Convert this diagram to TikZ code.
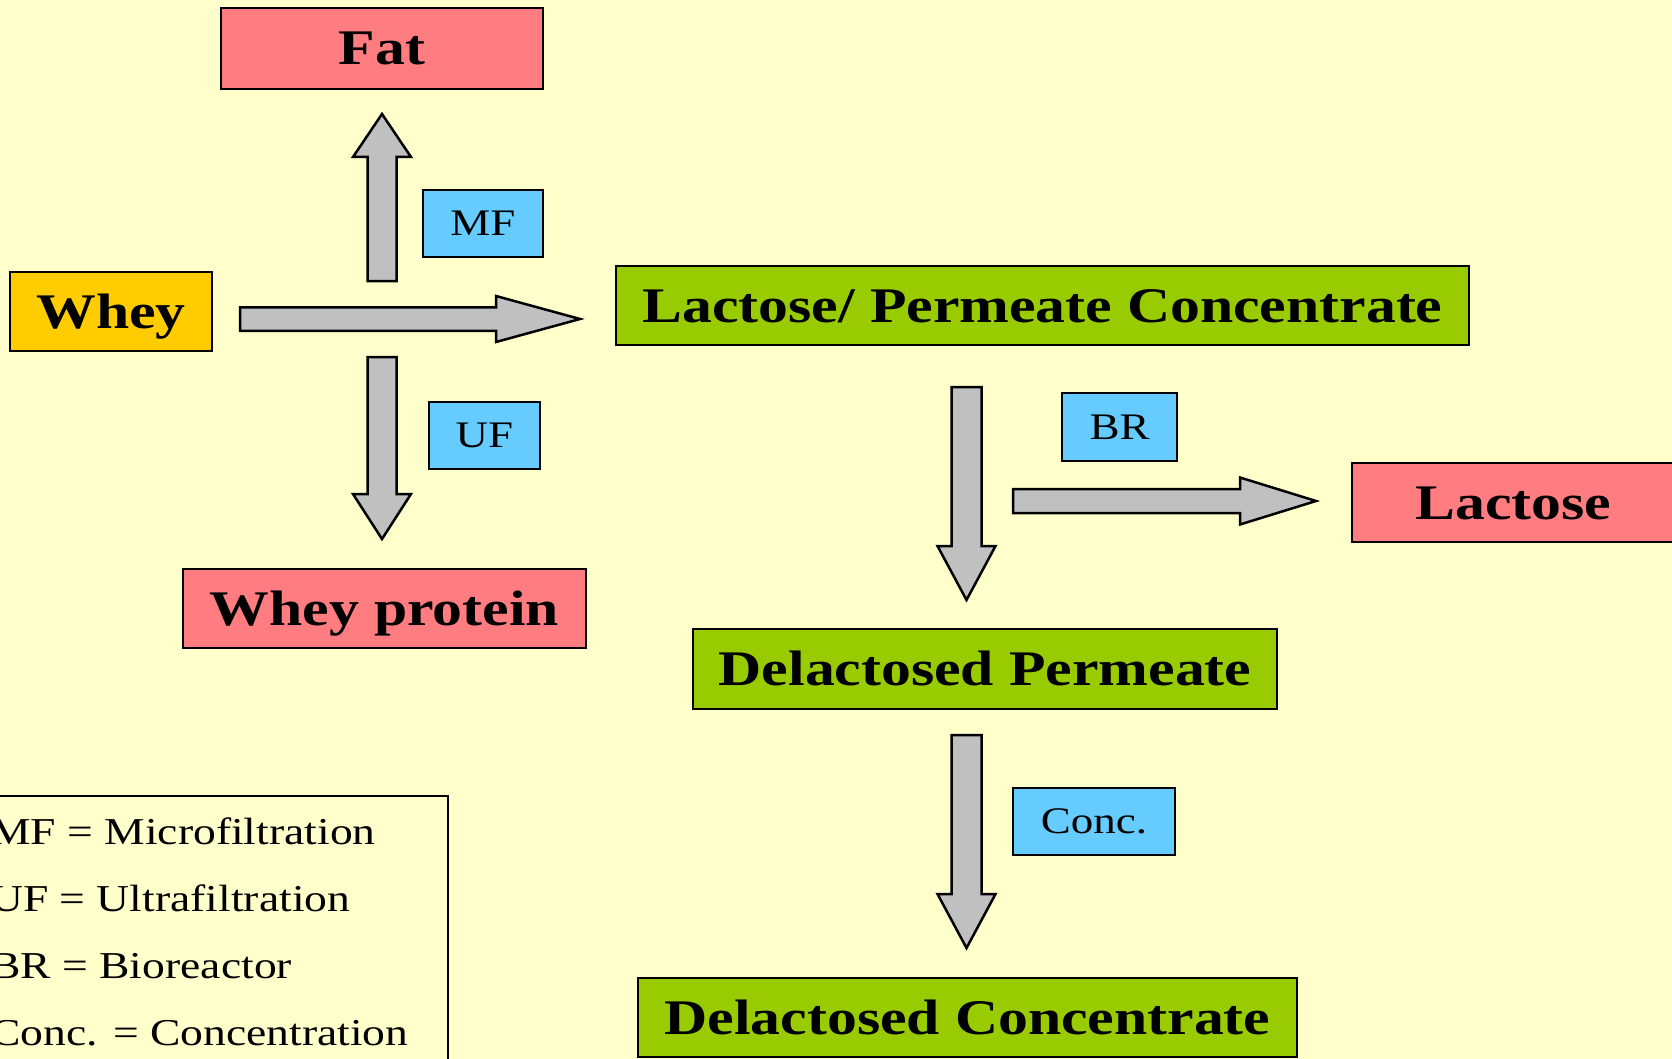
\documentclass[tikz,border=0pt]{standalone}
\usepackage{fontspec}
\setmainfont{Liberation Serif}[FakeStretch=1.2]
\definecolor{bgc}{HTML}{FFFFCC}
\definecolor{pinkc}{HTML}{FF7C80}
\definecolor{orangec}{HTML}{FFCC00}
\definecolor{greenc}{HTML}{99CC00}
\definecolor{bluec}{HTML}{66CCFF}
\definecolor{grayc}{HTML}{C0C0C0}
\tikzset{
  bigbox/.style={draw=black, line width=2.5pt, inner sep=0pt,
    font=\fontsize{49.8}{56}\selectfont\bfseries, text height=33pt, text depth=0pt},
  lblbox/.style={draw=black, line width=2.5pt, fill=bluec, inner sep=0pt,
    font=\fontsize{37.5}{44}\selectfont, text height=24pt, text depth=0pt},
  legtext/.style={anchor=base west, inner sep=0pt, font=\fontsize{38}{45}\selectfont},
  arrowbody/.style={draw=black, line width=2.5pt, fill=grayc, line join=miter},
  pics/blockarrow/.style args={#1/#2/#3/#4}{code={
    \draw[arrowbody] (0,-#2) -- (#1-#4,-#2) -- (#1-#4,-#3) -- (#1,0)
      -- (#1-#4,#3) -- (#1-#4,#2) -- (0,#2) -- cycle;
  }}
}
\begin{document}
\begin{tikzpicture}[x=1pt,y=-1pt]
\useasboundingbox (0,0) rectangle (1672,1059);
\clip (0,0) rectangle (1672,1059);
\fill[bgc] (0,0) rectangle (1672,1059);

% main boxes
\node[bigbox, fill=pinkc, minimum width=322pt, minimum height=81pt] (fat) at (382,48.5) {Fat};
\node[bigbox, fill=orangec, minimum width=202pt, minimum height=79pt] (whey) at (111,311.5) {Whey};
\node[bigbox, fill=greenc, minimum width=853pt, minimum height=79pt] (lpc) at (1042.5,305.5) {Lactose/ Permeate Concentrate};
\node[bigbox, fill=pinkc, minimum width=403pt, minimum height=79pt] (wp) at (384.5,608.5) {Whey protein};
\node[bigbox, fill=pinkc, minimum width=323pt, minimum height=79pt] (lac) at (1513.5,502.5) {Lactose};
\node[bigbox, fill=greenc, minimum width=584pt, minimum height=80pt] (dp) at (985,669) {Delactosed Permeate};
\node[bigbox, fill=greenc, minimum width=659pt, minimum height=79pt] (dc) at (967.5,1017.5) {Delactosed Concentrate};

% process labels
\node[lblbox, minimum width=120pt, minimum height=67pt] (mf) at (483,223.5) {MF};
\node[lblbox, minimum width=111pt, minimum height=67pt] (uf) at (484.5,435.5) {UF};
\node[lblbox, minimum width=115pt, minimum height=68pt] (br) at (1119.5,427) {BR};
\node[lblbox, minimum width=162pt, minimum height=67pt] (conc) at (1094,821.5) {Conc.};

% block arrows
\pic[rotate=90] (aMF) at (382,281) {blockarrow=167/14.5/29/43};
\pic (aW) at (240,319) {blockarrow=340/11.75/23/84};
\pic[rotate=-90] (aUF) at (382,357) {blockarrow=182/14.5/29/45};
\pic[rotate=-90] (aBRd) at (966.5,387) {blockarrow=213/15/29/54};
\pic (aBRr) at (1013,501) {blockarrow=303/12/23.5/76};
\pic[rotate=-90] (aC) at (966.5,735) {blockarrow=213/15/29/54};

% legend
\node[draw=black, line width=2.5pt, inner sep=0pt, minimum width=468pt, minimum height=284pt] (legend) at (214,938) {};
\node[legtext] (l1) at (-10,844) {MF = Microfiltration};
\node[legtext] (l2) at (-10,911) {UF = Ultrafiltration};
\node[legtext] (l3) at (-10,978) {BR = Bioreactor};
\node[legtext] (l4) at (-10,1045) {Conc. = Concentration};
\end{tikzpicture}
\end{document}
